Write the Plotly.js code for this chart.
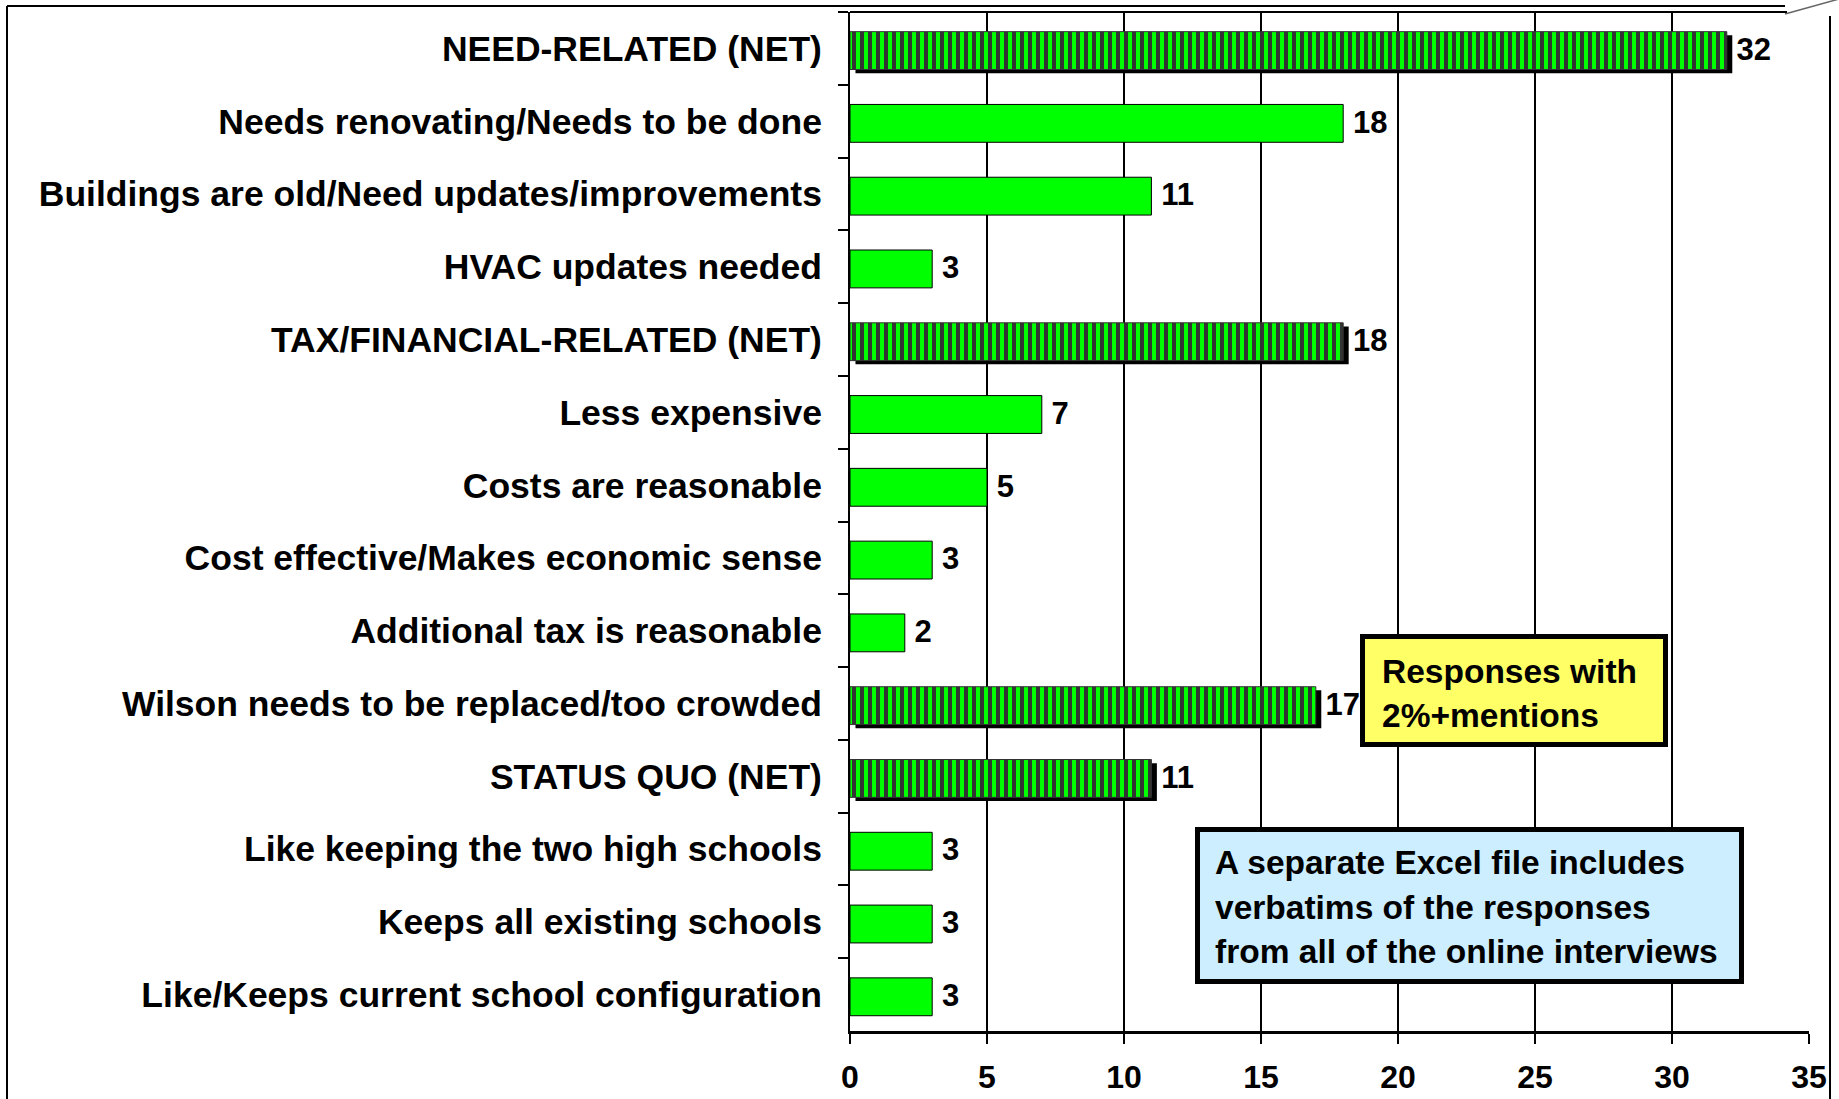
<!DOCTYPE html>
<html><head><meta charset="utf-8">
<script src="https://cdn.plot.ly/plotly-3.0.1.min.js"></script>
<style>html,body{margin:0;padding:0;background:#fff;overflow:hidden}</style>
</head><body><div id="chart" style="width:1839px;height:1099px"></div>
<script>
const categories = [
  'NEED-RELATED (NET)',
  'Needs renovating/Needs to be done',
  'Buildings are old/Need updates/improvements',
  'HVAC updates needed',
  'TAX/FINANCIAL-RELATED (NET)',
  'Less expensive',
  'Costs are reasonable',
  'Cost effective/Makes economic sense',
  'Additional tax is reasonable',
  'Wilson needs to be replaced/too crowded',
  'STATUS QUO (NET)',
  'Like keeping the two high schools',
  'Keeps all existing schools',
  'Like/Keeps current school configuration'
];
const values = [32, 18, 11, 3, 18, 7, 5, 3, 2, 17, 11, 3, 3, 3];
const isNet = [true, false, false, false, true, false, false, false, false, true, true, false, false, false];
const xTicks = [0, 5, 10, 15, 20, 25, 30, 35];
const noteYellow = ['Responses with', '2%+mentions'];
const noteBlue = ['A separate Excel file includes', 'verbatims of the responses', 'from all of the online interviews'];

const W = 1839, H = 1099;
const M = {l: 850, r: 30, t: 12, b: 68};
const PW = W - M.l - M.r, PH = H - M.t - M.b;
const px = x => (x - M.l) / PW;
const py = y => (H - M.b - y) / PH;
const FONT = 'Liberation Sans, Arial, Helvetica, sans-serif';
const GREEN = '#00ff00';

const shadow = {
  type: 'bar', orientation: 'h', y: categories,
  x: values.map((v, i) => isNet[i] ? v : null),
  base: 0.2, width: 0.52, offset: -0.18,
  marker: {color: '#000', line: {width: 0}},
  hoverinfo: 'skip', showlegend: false
};
const bars = {
  type: 'bar', orientation: 'h', y: categories, x: values,
  width: 0.52, offset: -0.23,
  marker: {
    color: GREEN,
    line: {color: isNet.map(n => n ? '#333' : '#000'), width: 1},
    pattern: {shape: isNet.map(n => n ? '|' : ''), bgcolor: GREEN, fgcolor: '#333333', size: 8, solidity: 0.5}
  },
  hoverinfo: 'skip', showlegend: false
};
const labels = {
  type: 'scatter', mode: 'markers+text', y: categories, x: values, yaxis: 'y2',
  text: values.map(String), textposition: 'middle right',
  marker: {size: 14, color: 'rgba(0,0,0,0)'},
  textfont: {family: FONT, size: 31, weight: 'bold', color: '#000'},
  cliponaxis: false, hoverinfo: 'skip', showlegend: false
};

const line = (x0, y0, x1, y1, w, c) => ({type: 'line', xref: 'paper', yref: 'paper',
  x0: px(x0), y0: py(y0), x1: px(x1), y1: py(y1), line: {color: c || '#000', width: w}});
const rect = (x0, y0, x1, y1, fill) => ({type: 'rect', xref: 'paper', yref: 'paper', layer: 'above',
  x0: px(x0), y0: py(y0), x1: px(x1), y1: py(y1), fillcolor: fill, line: {color: '#000', width: 5}});

const shapes = [
  line(7, 6, 1785, 6, 2),
  line(7, 6, 7, 1110, 2),
  line(1830, 16, 1830, 1110, 2),
  line(1785, 14, 1839, -1, 1.5, '#666'),
  line(850, 12, 1787, 12, 2),
  rect(1362.5, 636.5, 1665.5, 744.5, '#ffff66'),
  rect(1197.5, 829.5, 1741.5, 981.5, '#cceeff')
];

const ann = (t, x, y) => ({text: t, xref: 'paper', yref: 'paper', x: px(x), y: py(y),
  xanchor: 'left', yanchor: 'middle', showarrow: false,
  font: {family: FONT, size: 33.5, weight: 'bold', color: '#000'}});
const yellowY = [671, 715];
const blueY = [862, 907, 951];
const annotations = [
  ...noteYellow.map((t, i) => ann(t, 1380, yellowY[i])),
  ...noteBlue.map((t, i) => ann(t, 1213, blueY[i]))
];

const layout = {
  width: W, height: H, margin: M,
  paper_bgcolor: '#fff', plot_bgcolor: '#fff',
  barmode: 'overlay', showlegend: false,
  font: {family: FONT, color: '#000'},
  xaxis: {
    range: [0, 35], tickmode: 'array', tickvals: xTicks, ticktext: xTicks.map(String),
    ticks: 'outside', ticklen: 10, tickwidth: 2, tickcolor: '#000',
    showline: true, linewidth: 3, linecolor: '#000',
    showgrid: true, gridcolor: '#000', gridwidth: 1.5, zeroline: false,
    tickfont: {family: FONT, size: 32, weight: 'bold', color: '#000'},
    ticklabelstandoff: 6,
    fixedrange: true
  },
  yaxis: {
    type: 'category', categoryorder: 'array', categoryarray: categories,
    range: [13.5, -0.5],
    ticks: 'outside', tickson: 'boundaries', ticklen: 10, tickwidth: 2, tickcolor: '#000',
    showline: true, linewidth: 2, linecolor: '#000', showgrid: false, zeroline: false,
    tickfont: {family: FONT, size: 35.5, weight: 'bold', color: '#000'},
    ticklabelstandoff: 19,
    fixedrange: true
  },
  yaxis2: {
    type: 'category', categoryorder: 'array', categoryarray: categories,
    overlaying: 'y', range: [13.45, -0.55],
    showticklabels: false, ticks: '', showline: false, showgrid: false, zeroline: false,
    fixedrange: true
  },
  shapes, annotations
};

Plotly.newPlot('chart', [shadow, bars, labels], layout, {displayModeBar: false, staticPlot: true});
</script></body></html>
